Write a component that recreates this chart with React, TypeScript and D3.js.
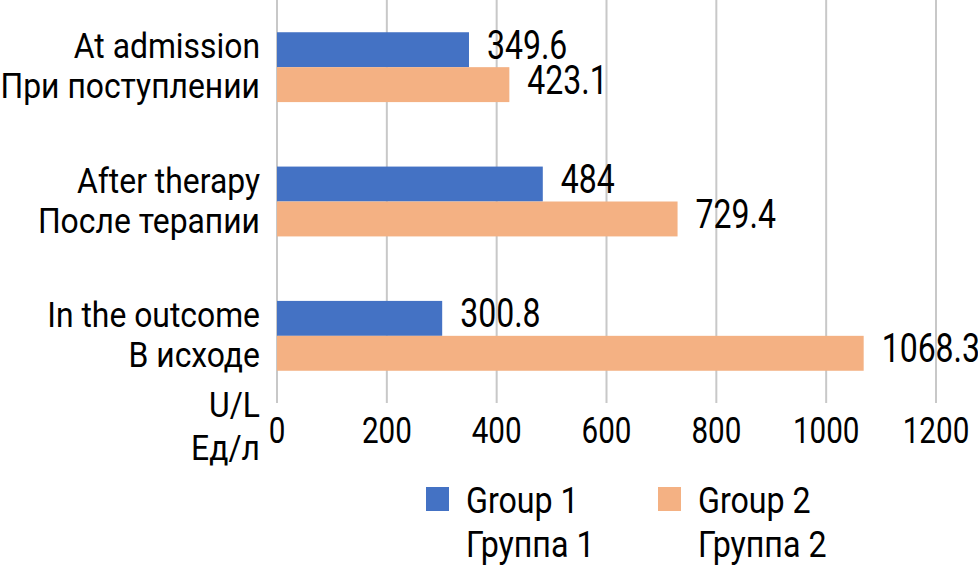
import React from 'react';
import * as d3 from 'd3';

const categoriesEn = ['At admission', 'After therapy', 'In the outcome'];
const categoriesRu = ['При поступлении', 'После терапии', 'В исходе'];
const group1 = [349.6, 484, 300.8];
const group2 = [423.1, 729.4, 1068.3];
const ticks = [0, 200, 400, 600, 800, 1000, 1200];
const seriesEn = ['Group 1', 'Group 2'];
const seriesRu = ['Группа 1', 'Группа 2'];
const colors = ['#4472c4', '#f4b183'];

const W = 978;
const H = 568;
const font = "Roboto, 'DejaVu Sans Condensed', sans-serif";

// condensed look: squeeze a normal font horizontally
type TProps = { x: number; y: number; size: number; sx: number; anchor?: 'start' | 'middle' | 'end'; children: React.ReactNode };
const T: React.FC<TProps> = ({ x, y, size, sx, anchor = 'start', children }) => (
  <text transform={`translate(${x},${y}) scale(${sx},1)`} textAnchor={anchor} fontSize={size} fill="#000">
    {children}
  </text>
);

const App: React.FC = () => {
  const x = d3.scaleLinear().domain([0, 1200]).range([277, 936]);
  const y = d3.scaleBand<number>().domain([0, 1, 2]).range([0, 403]).paddingInner(0.48).paddingOuter(0.24);
  const sub = d3.scaleBand<number>().domain([0, 1]).range([0, y.bandwidth()]);
  const series = [group1, group2];
  const cat = 0.885;
  const leg = 0.87;
  const num = 0.8;

  return (
    <div style={{ position: 'fixed', left: 0, top: 0 }}>
      <svg width={W} height={H} style={{ display: 'block', background: '#fff' }} fontFamily={font}>
        {/* gridlines */}
        {ticks.map(t => (
          <line key={t} x1={x(t)} x2={x(t)} y1={0} y2={403} stroke="#c8c8c8" strokeWidth={2} />
        ))}
        {/* bars */}
        {series.map((vals, s) =>
          vals.map((v, i) => (
            <rect key={`${s}-${i}`} x={x(0)} y={(y(i) ?? 0) + (sub(s) ?? 0)} width={x(v) - x(0)}
              height={sub.bandwidth()} fill={colors[s]} />
          ))
        )}
        {/* value labels */}
        {series.map((vals, s) =>
          vals.map((v, i) => (
            <T key={`l${s}-${i}`} x={x(v) + 18} y={(y(i) ?? 0) + (sub(s) ?? 0) + sub.bandwidth() / 2 + 9}
              size={40} sx={num}>{String(v)}</T>
          ))
        )}
        {/* category labels */}
        {categoriesEn.map((c, i) => {
          const cy = (y(i) ?? 0) + y.bandwidth() / 2;
          return (
            <g key={c}>
              <T x={260} y={cy - 9} anchor="end" size={36} sx={cat}>{c}</T>
              <T x={260} y={cy + 31} anchor="end" size={36} sx={cat}>{categoriesRu[i]}</T>
            </g>
          );
        })}
        {/* axis title */}
        <T x={260} y={417} anchor="end" size={36} sx={cat}>U/L</T>
        <T x={260} y={460} anchor="end" size={36} sx={cat}>Ед/л</T>
        {/* tick labels */}
        {ticks.map(t => (
          <T key={`t${t}`} x={x(t)} y={443} anchor="middle" size={37} sx={num}>{t}</T>
        ))}
        {/* legend */}
        {seriesEn.map((s, i) => {
          const lx = 426 + i * 232;
          return (
            <g key={s}>
              <rect x={lx} y={487} width={23} height={24} fill={colors[i]} />
              <T x={lx + 40} y={513} size={37} sx={leg}>{s}</T>
              <T x={lx + 40} y={557} size={37} sx={leg}>{seriesRu[i]}</T>
            </g>
          );
        })}
      </svg>
    </div>
  );
};

export default App;
